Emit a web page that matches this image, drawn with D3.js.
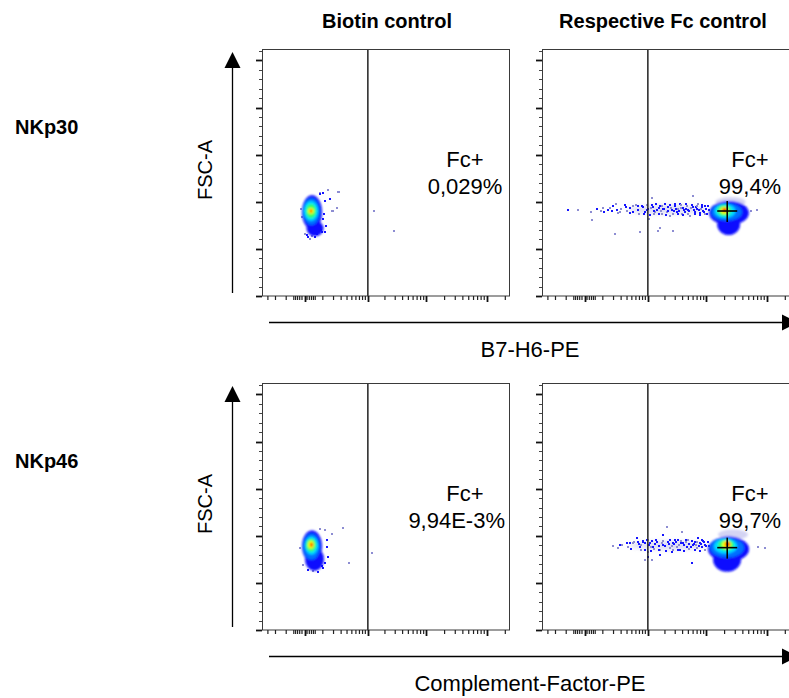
<!DOCTYPE html>
<html><head><meta charset="utf-8">
<script src="https://cdn.jsdelivr.net/npm/d3@7"></script>
<style>
body{margin:0;background:#fff}
text{font-family:"Liberation Sans",Arial,Helvetica,sans-serif;fill:#000}
</style>
</head><body>
<svg id="c" width="789" height="698" xmlns="http://www.w3.org/2000/svg"></svg>
<script>
// ---------------- DATA ----------------
const columnTitles = ["Biotin control", "Respective Fc control"];
const rowLabels = ["NKp30", "NKp46"];
const xAxisTitles = ["B7-H6-PE", "Complement-Factor-PE"];
const yAxisTitle = "FSC-A";
const gateName = "Fc+";
const gatePercents = [["0,029%", "99,4%"], ["9,94E-3%", "99,7%"]];
const gateThreshold = 1000;              // PE intensity of the Fc+ gate

// FSC-A in thousands
const fscMajorTicks = [0, 50, 100, 150, 200, 250];
const fscMinorTicks = [10, 20, 30, 40, 60, 70, 80, 90, 110, 120, 130, 140, 160, 170, 180, 190, 210, 220, 230, 240, 260];
// PE intensity (biexponential-like display)
const peMajorTicks = [0, 1000, 10000, 100000];
const peMinorTicks = [-300, -200, -100, -50, -40, -30, -20, -10, 10, 20, 30, 40, 50,
  100, 200, 300, 400, 500, 600, 700, 800, 900,
  2000, 3000, 4000, 5000, 6000, 7000, 8000, 9000,
  20000, 30000, 40000, 50000, 60000, 70000, 80000, 90000, 200000];

// density contour levels: [level, PE low, PE high, FSC low (K), FSC high (K)]
// level -1 = pale halo, level -2 = faint tail
const densityNKp30Biotin = [
  [0, -10, 94, 71, 107], [0, 8, 105, 63.5, 80],
  [1, -6, 80, 75.3, 104], [2, -2, 67, 79.6, 100.8], [3, 6, 55, 82.8, 97.6],
  [4, 14, 43, 87, 93.4], [5, 23, 33, 88.1, 92.3]
];
const densityNKp30Fc = [
  [-2, 400, 10500, 87, 96.5],
  [-1, 14100, 44300, 94.4, 105],
  [0, 11100, 50300, 75.3, 100.8], [0, 15100, 36000, 64.7, 87],
  [1, 12000, 38800, 79.6, 98.7], [2, 13600, 30300, 82.8, 97.6], [3, 15100, 25800, 84.9, 96.6],
  [4, 17000, 23000, 87, 94.4], [5, 18200, 22100, 89.1, 93.4]
];
const densityNKp46Biotin = [
  [0, -10, 94, 72.5, 105.5], [0, 2, 109, 62.9, 87.4],
  [1, -6, 80, 74.6, 102.3], [2, 2, 67, 79.9, 99.1], [3, 6, 55, 83.1, 97],
  [4, 14, 43, 86.3, 94.8], [5, 23, 38, 88.4, 92.7]
];
const densityNKp46Fc = [
  [-2, 450, 10500, 85, 94.5],
  [-1, 15580, 48700, 95.9, 106.6],
  [0, 10650, 50600, 72.5, 99.1], [0, 12880, 37350, 61.8, 87.4],
  [1, 11480, 41900, 76.7, 98], [2, 13390, 32070, 81, 97], [3, 15580, 28600, 84.2, 95.9],
  [4, 18140, 25550, 86.3, 94.8], [5, 20340, 24600, 88.4, 93.8]
];

// sparse events: [PE, FSC (K), tone 0 = blue, 1 = pale]
const eventsNKp30Biotin = [
  [80, 109.3, 1], [101, 109.3, 0], [145, 112.5, 1], [270, 110.3, 1], [162, 102.9, 0], [194, 90.2, 1],
  [242, 93.4, 1], [118, 100.8, 0], [101, 81.7, 0], [126, 74.3, 0], [67, 71.1, 0], [94, 67.9, 0],
  [33, 63.7, 1], [10, 64.7, 0], [2, 65.8, 1], [14, 62.6, 0], [60, 65.8, 0], [87, 70, 0],
  [118, 67.9, 0], [1310, 90.2, 1], [2870, 69, 1], [80, 108.2, 0], [183, 90.2, 1], [256, 110.3, 1],
  [-13, 92.3, 1], [-10, 83.8, 1], [109, 87, 0], [23, 60.5, 1], [50, 62.6, 0]
];
const eventsNKp30Fc = [
  [-84, 91.2, 0], [-28, 91.2, 1], [28, 89.1, 1], [33, 80.6, 1], [60, 92.3, 0], [101, 93.4, 1],
  [109, 89.1, 0], [162, 93.4, 1], [183, 90.2, 0], [229, 97.6, 1], [242, 91.2, 0], [284, 89.1, 1],
  [355, 96.6, 0], [400, 90.2, 1], [462, 93.4, 0], [528, 89.1, 0], [603, 96.6, 1], [657, 91.2, 0],
  [720, 67.9, 1], [820, 94.4, 0], [890, 89.1, 0], [1010, 92.3, 0], [1050, 81.7, 1], [1190, 104, 1],
  [1240, 94.4, 0], [1350, 89.1, 1], [1460, 91.2, 0], [1520, 69, 1], [1650, 95.5, 0], [1780, 87, 1],
  [1860, 92.3, 0], [2010, 97.6, 0], [2170, 89.1, 1], [2260, 94.4, 0], [2450, 84.9, 1], [2650, 91.2, 0],
  [2750, 69, 1], [2990, 95.5, 0], [3210, 89.1, 0], [3350, 92.3, 1], [3640, 97.6, 0], [3910, 87, 1],
  [4070, 93.4, 0], [4420, 89.1, 0], [4740, 95.5, 1], [4920, 91.2, 0], [5370, 84.9, 1], [5980, 106, 1],
  [5980, 94.4, 0], [6520, 89.1, 0], [6970, 92.3, 0], [7240, 97.6, 1], [7920, 88.1, 0], [8460, 94.4, 0],
  [8770, 90.2, 0], [9600, 95.5, 0], [10300, 87, 0], [217, 65.8, 1], [1650, 72, 1], [53600, 90.2, 1],
  [68600, 91.2, 1], [950, 91, 0], [1120, 93.5, 1], [1300, 90, 0], [1550, 93, 0], [1700, 90.5, 1],
  [1950, 92, 0], [2300, 90, 0], [2550, 93, 1], [2850, 90, 0], [3100, 92.5, 0], [3500, 90, 0],
  [3800, 93, 1], [4250, 91, 0], [4600, 92.5, 0], [5100, 90, 0], [5600, 93, 1], [6200, 91, 0],
  [6800, 94, 0], [7500, 91, 0], [8100, 92.5, 1], [9000, 89, 0], [9900, 92, 0],
  [650, 95, 0], [700, 87.5, 1], [780, 96, 0], [850, 86.5, 0], [980, 97, 1], [1080, 86, 0],
  [1180, 96.5, 0], [1280, 87.5, 1], [1420, 97.5, 0], [1600, 86.5, 0], [1800, 96, 1], [2100, 86, 0],
  [2400, 97, 0], [2700, 87, 1], [3000, 98, 0], [3300, 86.5, 0], [3700, 96.5, 1], [4100, 86, 0],
  [4600, 97.5, 0], [5000, 87.5, 1], [5800, 96.5, 0], [6400, 86.5, 0], [7000, 95.5, 1], [7700, 86, 0],
  [8300, 97, 0], [9300, 86.5, 1], [10500, 95, 0], [11000, 91, 0], [300, 92, 1], [450, 88, 0],
  [520, 95, 1], [380, 94, 0], [250, 88.5, 1], [140, 91.5, 0], [90, 90, 1], [190, 95, 0]
];
const eventsNKp46Biotin = [
  [80, 107.6, 1], [118, 106.6, 1], [183, 102.3, 1], [330, 108.7, 1], [134, 88.4, 0], [145, 77.8, 0],
  [118, 71.4, 0], [101, 66.1, 0], [14, 63.9, 0], [38, 62.9, 1], [439, 71.4, 1], [1190, 82, 1],
  [67, 61.8, 0], [-6, 69.3, 1], [94, 68.2, 0], [134, 95.9, 0], [-19, 87.4, 1]
];
const eventsNKp46Fc = [
  [194, 89.5, 1], [284, 90.6, 0], [420, 88.4, 1], [462, 92.7, 0], [528, 92.7, 1], [630, 98, 0],
  [720, 88.4, 0], [820, 93.8, 0], [890, 74.6, 1], [966, 95.9, 0], [1010, 83.1, 1], [1010, 77.8, 0],
  [1100, 92.7, 0], [1190, 74.6, 1], [1240, 88.4, 0], [1460, 93.8, 0], [1650, 85.2, 1], [1650, 79.9, 0],
  [1860, 101.2, 0], [1860, 90.6, 0], [2170, 109.8, 1], [2260, 93.8, 0], [2450, 87.4, 1], [2650, 83.1, 0],
  [2750, 92.7, 0], [3210, 88.4, 1], [3350, 95.9, 0], [3640, 85.2, 0], [3910, 104.4, 1], [4070, 92.7, 0],
  [4740, 88.4, 0], [4920, 95.9, 1], [5750, 71.4, 0], [5980, 90.6, 0], [6520, 93.8, 0], [6970, 87.4, 1],
  [7240, 98, 0], [7920, 92.7, 0], [8460, 88.4, 0], [8770, 94.8, 0], [9600, 90.6, 0], [71200, 88.4, 1],
  [92800, 87.4, 1], [700, 91, 0], [760, 90, 1], [900, 92, 0], [1050, 90, 0], [1150, 88.6, 1],
  [1350, 91.5, 0], [1550, 89, 0], [1750, 92, 1], [2000, 89.5, 0], [2350, 91.5, 0], [2600, 89, 1],
  [2900, 91, 0], [3100, 93, 0], [3450, 90.5, 1], [3750, 92.5, 0], [4300, 90, 0], [4500, 93, 1],
  [5200, 91, 0], [5500, 88.5, 0], [6200, 91.5, 0], [6700, 90, 1], [7600, 89.5, 0], [8200, 91, 0],
  [9200, 93, 0], [10000, 89, 0],
  [650, 93, 0], [740, 85, 1], [800, 94, 0], [870, 84.5, 0], [1000, 95, 1], [1120, 84, 0],
  [1200, 94.5, 0], [1300, 85.5, 1], [1400, 95.5, 0], [1600, 84.5, 0], [1850, 94, 1], [2100, 84, 0],
  [2400, 95, 0], [2750, 85, 1], [3000, 96, 0], [3300, 84.5, 0], [3800, 94.5, 1], [4150, 84, 0],
  [4650, 95.5, 0], [5050, 85.5, 1], [5850, 94.5, 0], [6450, 84.5, 0], [7050, 93.5, 1], [7750, 84, 0],
  [8350, 95, 0], [9350, 84.5, 1], [10500, 93, 0], [11000, 89, 0], [320, 90, 1], [480, 86, 0],
  [560, 93, 1], [400, 92, 0], [260, 86.5, 1]
];
// median marker (cross) of the positive population: [PE, FSC (K)]
const crossNKp30Fc = [22100, 90.2];
const crossNKp46Fc = [22100, 87.4];

// ---------------- LAYOUT / STYLE ----------------
const W = 247, H = 247;
const colX = [262, 542], rowY = [49, 383];
const levelColors = ["#0a0aff", "#0070ff", "#00dcff", "#33ff66", "#f4ff00", "#ff2800"];
const haloColor = "#c9c9f0";
const tailColor = "#b4b4e6";
const toneColors = ["#1515ff", "#8d8dd2"];

const panels = [
  {row: 0, col: 0, dens: densityNKp30Biotin, ev: eventsNKp30Biotin, cross: null,
   lab: [{x: 203, a: "middle"}, {x: 203, a: "middle"}]},
  {row: 0, col: 1, dens: densityNKp30Fc, ev: eventsNKp30Fc, cross: crossNKp30Fc,
   lab: [{x: 208, a: "middle"}, {x: 208, a: "middle"}]},
  {row: 1, col: 0, dens: densityNKp46Biotin, ev: eventsNKp46Biotin, cross: null,
   lab: [{x: 203, a: "middle"}, {x: 243, a: "end"}]},
  {row: 1, col: 1, dens: densityNKp46Fc, ev: eventsNKp46Fc, cross: crossNKp46Fc,
   lab: [{x: 208, a: "middle"}, {x: 208, a: "middle"}]}
];

const svg = d3.select("#c");
svg.append("rect").attr("width", 789).attr("height", 698).attr("fill", "#fff");

const x = d3.scaleSymlog().constant(100).domain([-400, 230000]).range([0, W]);
const y = d3.scaleLinear().domain([0, 262.144]).range([H, 0]);

const defs = svg.append("defs");
defs.append("clipPath").attr("id", "clip").append("rect").attr("width", W).attr("height", H);
defs.append("filter").attr("id", "soft").attr("x", "-50%").attr("y", "-50%").attr("width", "200%").attr("height", "200%")
  .append("feGaussianBlur").attr("stdDeviation", 0.9);
defs.append("filter").attr("id", "softer").attr("x", "-50%").attr("y", "-50%").attr("width", "200%").attr("height", "200%")
  .append("feGaussianBlur").attr("stdDeviation", 2);

panels.forEach(p => {
  const g = svg.append("g").attr("transform", `translate(${colX[p.col]},${rowY[p.row]})`);
  const plot = g.append("g").attr("clip-path", "url(#clip)");

  // faint tail band
  plot.selectAll("ellipse.tail").data(p.dens.filter(d => d[0] === -2)).join("ellipse").attr("class", "tail")
    .attr("cx", d => (x(d[1]) + x(d[2])) / 2)
    .attr("cy", d => (y(d[3]) + y(d[4])) / 2)
    .attr("rx", d => (x(d[2]) - x(d[1])) / 2)
    .attr("ry", d => (y(d[3]) - y(d[4])) / 2)
    .attr("fill", tailColor).attr("opacity", 0.45).attr("filter", "url(#softer)");

  // sparse events
  plot.selectAll("rect.ev").data(p.ev).join("rect").attr("class", "ev")
    .attr("x", d => Math.round(x(d[0])) - 1).attr("y", d => Math.round(y(d[1])) - 1)
    .attr("width", 2).attr("height", 2).attr("fill", d => toneColors[d[2]]);

  // density levels
  const dg = plot.append("g").attr("filter", "url(#soft)");
  dg.selectAll("ellipse").data(p.dens.filter(d => d[0] > -2)).join("ellipse")
    .attr("cx", d => (x(d[1]) + x(d[2])) / 2)
    .attr("cy", d => (y(d[3]) + y(d[4])) / 2)
    .attr("rx", d => Math.max(0.8, (x(d[2]) - x(d[1])) / 2))
    .attr("ry", d => Math.max(0.8, (y(d[3]) - y(d[4])) / 2))
    .attr("fill", d => d[0] < 0 ? haloColor : levelColors[d[0]])
    .attr("opacity", d => d[0] < 0 ? 0.8 : 1);

  // gate line
  g.append("line").attr("x1", x(gateThreshold)).attr("x2", x(gateThreshold))
    .attr("y1", 0).attr("y2", H).attr("stroke", "#222").attr("stroke-width", 1.5);

  // frame
  g.append("rect").attr("x", 0.5).attr("y", 0.5).attr("width", W).attr("height", H - 0.5)
    .attr("fill", "none").attr("stroke", "#3a3a3a").attr("stroke-width", 1);

  // y ticks
  g.selectAll("line.ymaj").data(fscMajorTicks).join("line").attr("class", "ymaj")
    .attr("x1", -6).attr("x2", 0).attr("y1", d => Math.round(y(d)) + 0.5).attr("y2", d => Math.round(y(d)) + 0.5)
    .attr("stroke", "#111").attr("stroke-width", 1.8);
  g.selectAll("line.ymin").data(fscMinorTicks).join("line").attr("class", "ymin")
    .attr("x1", -3).attr("x2", 0).attr("y1", d => Math.round(y(d)) + 0.5).attr("y2", d => Math.round(y(d)) + 0.5)
    .attr("stroke", "#444").attr("stroke-width", 1);

  // x ticks
  g.selectAll("line.xmaj").data(peMajorTicks).join("line").attr("class", "xmaj")
    .attr("y1", H).attr("y2", H + 6).attr("x1", d => Math.round(x(d)) + 0.5).attr("x2", d => Math.round(x(d)) + 0.5)
    .attr("stroke", "#111").attr("stroke-width", 1.8);
  g.selectAll("line.xmin").data(peMinorTicks).join("line").attr("class", "xmin")
    .attr("y1", H).attr("y2", H + 4).attr("x1", d => x(d)).attr("x2", d => x(d))
    .attr("stroke", "#222").attr("stroke-width", 1.2);

  // cross marker
  if (p.cross) {
    const cx = x(p.cross[0]), cy = y(p.cross[1]);
    g.append("line").attr("x1", cx - 10).attr("x2", cx + 10).attr("y1", cy).attr("y2", cy)
      .attr("stroke", "#000").attr("stroke-width", 1.6);
    g.append("line").attr("x1", cx).attr("x2", cx).attr("y1", cy - 10).attr("y2", cy + 11)
      .attr("stroke", "#000").attr("stroke-width", 1.6);
  }

  // gate labels
  g.append("text").attr("x", p.lab[0].x).attr("y", 118).attr("text-anchor", p.lab[0].a)
    .attr("font-size", 22).text(gateName);
  g.append("text").attr("x", p.lab[1].x).attr("y", 145).attr("text-anchor", p.lab[1].a)
    .attr("font-size", 22).text(gatePercents[p.row][p.col]);
});

// column titles
columnTitles.forEach((t, i) => {
  svg.append("text").attr("x", [387, 663][i]).attr("y", 28).attr("text-anchor", "middle")
    .attr("font-size", 20).attr("font-weight", "bold").text(t);
});
// row labels
rowLabels.forEach((t, i) => {
  svg.append("text").attr("x", 15).attr("y", [134, 468][i])
    .attr("font-size", 20).attr("font-weight", "bold").text(t);
});

// axis arrows and titles per row
[0, 1].forEach(r => {
  const top = rowY[r];
  // y arrow
  svg.append("line").attr("x1", 232.5).attr("x2", 232.5).attr("y1", top + H - 3).attr("y2", top + 15)
    .attr("stroke", "#000").attr("stroke-width", 1.3);
  svg.append("path").attr("d", `M${232.5},${top + 3} L${224.5},${top + 19} L${240.5},${top + 19} Z`).attr("fill", "#000");
  svg.append("text").attr("transform", `translate(212,${top + 121}) rotate(-90)`).attr("text-anchor", "middle")
    .attr("font-size", 20).text(yAxisTitle);
  // x arrow
  const ya = top + H + 26;
  svg.append("line").attr("x1", 269).attr("x2", 786).attr("y1", ya + 0.5).attr("y2", ya + 0.5)
    .attr("stroke", "#000").attr("stroke-width", 1.3);
  svg.append("path").attr("d", `M${782},${ya - 7.5} L${798},${ya + 0.5} L${782},${ya + 8.5} Z`).attr("fill", "#000");
  svg.append("text").attr("x", 530).attr("y", ya + 35).attr("text-anchor", "middle")
    .attr("font-size", 22).text(xAxisTitles[r]);
});
</script>
</body></html>
